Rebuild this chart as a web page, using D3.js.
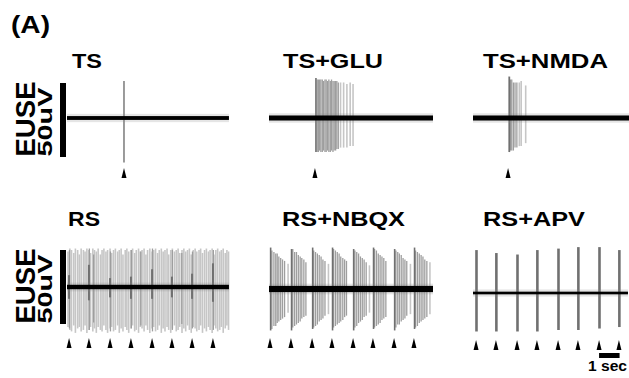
<!DOCTYPE html>
<html>
<head>
<meta charset="utf-8">
<script src="https://cdn.jsdelivr.net/npm/d3@7"></script>
<style>
body { margin: 0; background: #fff; }
text { font-family: Arial, "Liberation Sans", sans-serif; font-weight: bold; fill: #000; }
</style>
</head>
<body>
<div id="chart"></div>
<script>
/*********** data (time in sec, amplitude in uV) ***********/
const titles = ["TS", "TS+GLU", "TS+NMDA", "RS", "RS+NBQX", "RS+APV"];
const noiseLevel = [1.3, 1.7, 1.7, 1.5, 2.1, 0.9];
const traceEnd = [7.9, 8.0, 8.0, 7.9, 8.0, 7.56];

const tsStim = [2.78];
const gluStim = [2.24];
const nmdaStim = [1.71];
const rsStim = [0.1, 1.07, 2.1, 3.12, 4.15, 5.12, 6.1, 7.12];
const nbqxStim = [0.05, 1.07, 2.1, 3.07, 4.1, 5.07, 6.1, 7.07];
const apvStim = [0.15, 1.12, 2.15, 3.12, 4.15, 5.12, 6.15, 7.12];

// [time, up, down]
const tsFirst = [[2.78, 25, 30]];
const tsFollow = [];
const tsSpont = [];

const gluFirst = [[2.29, 27, 23]];
const gluFollow = [[2.35, 26, 23], [2.41, 26, 23], [2.47, 26, 22], [2.53, 26, 23], [2.6, 26, 23],
  [2.66, 25, 22], [2.73, 26, 23], [2.79, 26, 23], [2.86, 25, 22], [2.92, 26, 23], [2.99, 25, 23],
  [3.05, 26, 22], [3.12, 25, 23], [3.18, 25, 22], [3.25, 25, 22], [3.31, 25, 21], [3.38, 24, 21]];
const gluSpont = [[3.49, 24, 20], [3.64, 24, 20], [3.8, 23, 20], [3.96, 24, 19], [4.1, 23, 19]];

const nmdaFirst = [[1.77, 28, 23]];
const nmdaFollow = [[1.83, 26, 22], [1.89, 26, 22], [1.97, 24, 22], [2.05, 24, 20], [2.14, 24, 20]];
const nmdaSpont = [[2.26, 24, 19], [2.35, 25, 19], [2.57, 22, 17]];

const rsFirst = [[0.1, 8, 8], [1.07, 15, 9], [2.1, 6, 7], [3.12, 7, 8], [4.15, 12, 8],
  [5.12, 7, 7], [6.1, 9, 8], [7.12, 16, 10]];
const rsFollow = [[0.12, 25, 28], [1.09, 26, 29], [1.3, 22, 24], [2.12, 24, 30], [3.14, 25, 28],
  [3.6, 24, 26], [4.17, 26, 30], [5.14, 25, 29], [5.6, 23, 25], [6.12, 24, 28], [7.14, 25, 29]];
const rsSpont = [
  [0.05, 24, 27], [0.14, 26, 29], [0.22, 25, 30], [0.33, 23, 26], [0.41, 26, 31], [0.52, 25, 28], [0.6, 22, 27], [0.69, 26, 30], [0.8, 25, 29], [0.88, 24, 26],
  [0.97, 26, 31], [1.07, 25, 29], [1.15, 23, 27], [1.26, 26, 30], [1.34, 25, 28], [1.43, 24, 31], [1.52, 26, 27], [1.63, 22, 29], [1.71, 25, 30], [1.8, 26, 26],
  [1.9, 24, 29], [1.98, 25, 31], [2.1, 26, 28], [2.18, 23, 27], [2.27, 25, 30], [2.36, 26, 29], [2.47, 24, 26], [2.55, 25, 31], [2.64, 26, 28], [2.73, 22, 30],
  [2.84, 25, 27], [2.92, 26, 29], [3.01, 24, 31], [3.12, 25, 28], [3.2, 26, 26], [3.3, 23, 30], [3.38, 25, 29], [3.49, 26, 31], [3.57, 24, 27], [3.66, 25, 28],
  [3.76, 26, 30], [3.85, 22, 26], [3.93, 25, 29], [4.04, 26, 31], [4.15, 24, 28], [4.23, 25, 27], [4.32, 26, 30], [4.42, 23, 29], [4.5, 25, 26], [4.6, 26, 31],
  [4.69, 24, 28], [4.78, 25, 30], [4.88, 26, 27], [4.96, 22, 29], [5.06, 25, 31], [5.14, 26, 28], [5.24, 24, 26], [5.33, 25, 30], [5.42, 26, 29], [5.5, 23, 27],
  [5.61, 25, 31], [5.7, 26, 28], [5.79, 24, 30], [5.88, 25, 26], [5.97, 26, 29], [6.06, 22, 31], [6.16, 25, 27], [6.25, 26, 28], [6.33, 24, 30], [6.44, 25, 29],
  [6.52, 26, 26], [6.61, 23, 31], [6.71, 25, 28], [6.8, 26, 30], [6.9, 24, 27], [6.98, 25, 29], [7.08, 26, 31], [7.17, 22, 26], [7.26, 25, 28], [7.35, 26, 30],
  [7.45, 24, 29], [7.53, 25, 27], [7.62, 26, 31], [7.72, 23, 28], [7.8, 25, 26], [7.88, 24, 29]];

const nbqxFirst = [[0.08, 28, 28], [1.1, 27, 28], [2.13, 28, 27], [3.1, 28, 28], [4.13, 27, 28],
  [5.1, 28, 27], [6.13, 27, 28], [7.1, 28, 27]];
const nbqxFollow = [
  [0.14, 26, 27], [0.24, 25, 25], [0.33, 24, 25], [0.4, 24, 23], [0.48, 22, 22], [0.57, 21, 21], [0.66, 20, 20], [0.76, 19, 19],
  [1.16, 27, 26], [1.25, 25, 25], [1.34, 25, 24], [1.43, 23, 23], [1.52, 22, 22], [1.6, 21, 20], [1.7, 20, 19], [1.8, 18, 18],
  [2.18, 26, 26], [2.27, 25, 25], [2.36, 24, 24], [2.45, 23, 22], [2.54, 22, 21], [2.63, 20, 20], [2.73, 19, 18],
  [3.15, 27, 26], [3.24, 26, 25], [3.33, 25, 24], [3.42, 24, 23], [3.5, 22, 22], [3.6, 21, 21], [3.69, 20, 19], [3.78, 19, 18],
  [4.19, 26, 26], [4.28, 25, 25], [4.37, 24, 23], [4.46, 22, 22], [4.55, 21, 21], [4.64, 20, 19], [4.74, 18, 18],
  [5.15, 27, 26], [5.24, 26, 25], [5.33, 24, 24], [5.42, 23, 23], [5.51, 22, 21], [5.6, 21, 20], [5.7, 19, 19],
  [6.19, 26, 26], [6.28, 25, 24], [6.36, 24, 24], [6.45, 23, 22], [6.54, 21, 21], [6.63, 20, 20], [6.72, 19, 18],
  [7.15, 26, 26], [7.24, 25, 25], [7.33, 24, 23], [7.42, 23, 22], [7.51, 22, 21], [7.6, 20, 20], [7.7, 19, 19]];
const nbqxSpont = [[0.93, 17, 16], [2.9, 17, 17], [4.9, 16, 16], [6.9, 17, 17], [7.85, 18, 17]];

const apvFirst = [[0.17, 29, 26], [1.14, 27, 26], [2.17, 26, 26], [3.14, 29, 26], [4.17, 30, 25],
  [5.14, 31, 25], [6.17, 31, 24], [7.14, 29, 23]];
const apvFollow = [];
const apvSpont = [];

const stimTimes = [tsStim, gluStim, nmdaStim, rsStim, nbqxStim, apvStim];
const firstSpikes = [tsFirst, gluFirst, nmdaFirst, rsFirst, nbqxFirst, apvFirst];
const followSpikes = [tsFollow, gluFollow, nmdaFollow, rsFollow, nbqxFollow, apvFollow];
const spontSpikes = [tsSpont, gluSpont, nmdaSpont, rsSpont, nbqxSpont, apvSpont];

/*********** layout ***********/
const width = 629, height = 378;
const pxPerSec = 20.5, pxPerUv = 1.48;
const colX = [67, 269, 473];
const baseY = [118, 118, 118, 287, 289, 293];
const titleX = [72, 283, 483, 68, 282, 483];
const titleLen = [30, 100, 125, 32, 123, 102];
const titleY = [68, 68, 68, 226, 226, 226];
const arrowY = [168, 168, 168, 338, 338, 340];
const barCenter = [120, 287];
const firstWidth = [1.4, 1.6, 1.8, 2, 1.6, 2.6];

const tierColor = { spont: "#c6c6c6", follow: "#9e9e9e", first: "#707070" };
const tierWidth = { spont: 1.6, follow: 1.3 };

const svg = d3.select("#chart").append("svg")
  .attr("width", width).attr("height", height);

svg.append("rect").attr("width", width).attr("height", height).attr("fill", "#fff");

svg.append("text")
  .attr("x", 11).attr("y", 33)
  .attr("font-size", 23)
  .attr("textLength", 39).attr("lengthAdjust", "spacingAndGlyphs")
  .text("(A)");

titles.forEach((title, i) => {
  const col = i % 3, row = Math.floor(i / 3);
  const x = d3.scaleLinear().domain([0, 8]).range([colX[col], colX[col] + 8 * pxPerSec]);
  const y = d3.scaleLinear().domain([-35, 35]).range([baseY[i] + 35 * pxPerUv, baseY[i] - 35 * pxPerUv]);
  const g = svg.append("g");

  g.append("text")
    .attr("x", titleX[i]).attr("y", titleY[i])
    .attr("font-size", 20)
    .attr("textLength", titleLen[i]).attr("lengthAdjust", "spacingAndGlyphs")
    .text(title);

  [["spont", spontSpikes[i]], ["follow", followSpikes[i]], ["first", firstSpikes[i]]].forEach(([tier, data]) => {
    g.append("g").selectAll("line")
      .data(data)
      .join("line")
      .attr("x1", d => x(d[0])).attr("x2", d => x(d[0]))
      .attr("y1", d => y(d[1])).attr("y2", d => y(-d[2]))
      .attr("stroke", tierColor[tier])
      .attr("stroke-width", tier === "first" ? firstWidth[i] : tierWidth[tier]);
  });

  // baseline with noise fuzz
  g.append("rect")
    .attr("x", x(0)).attr("width", x(traceEnd[i]) - x(0))
    .attr("y", y(noiseLevel[i] + 1.5)).attr("height", y(-noiseLevel[i] - 1.5) - y(noiseLevel[i] + 1.5))
    .attr("fill", "#888").attr("opacity", 0.22);
  g.append("rect")
    .attr("x", x(0)).attr("width", x(traceEnd[i]) - x(0))
    .attr("y", y(noiseLevel[i])).attr("height", y(-noiseLevel[i]) - y(noiseLevel[i]))
    .attr("fill", "#000");

  // stimulus arrowheads
  g.append("g").selectAll("path")
    .data(stimTimes[i])
    .join("path")
    .attr("d", d => `M${x(d) - 2.5},${arrowY[i] + 10}L${x(d)},${arrowY[i]}L${x(d) + 2.5},${arrowY[i] + 10}Z`)
    .attr("fill", "#000");

  if (col === 0) {
    const yb = d3.scaleLinear().domain([-35, 35]).range([barCenter[row] + 35 * pxPerUv, barCenter[row] - 35 * pxPerUv]);
    g.append("rect")
      .attr("x", 60).attr("width", 6)
      .attr("y", yb(25)).attr("height", yb(-25) - yb(25))
      .attr("fill", "#000");
    g.append("text")
      .attr("transform", `translate(35,${barCenter[row] - 1}) rotate(-90)`)
      .attr("text-anchor", "middle")
      .attr("font-size", 28)
      .attr("textLength", 75).attr("lengthAdjust", "spacingAndGlyphs")
      .text("EUSE");
    g.append("text")
      .attr("transform", `translate(52,${barCenter[row] + 2}) rotate(-90)`)
      .attr("text-anchor", "middle")
      .attr("font-size", 21)
      .attr("textLength", 69).attr("lengthAdjust", "spacingAndGlyphs")
      .text("50uV");
  }

  if (i === 5) {
    g.append("rect")
      .attr("x", x(6.15)).attr("width", x(7.15) - x(6.15))
      .attr("y", 353).attr("height", 5)
      .attr("fill", "#000");
    g.append("text")
      .attr("x", 588).attr("y", 371)
      .attr("font-size", 14)
      .attr("textLength", 39).attr("lengthAdjust", "spacingAndGlyphs")
      .text("1 sec");
  }
});
</script>
</body>
</html>
